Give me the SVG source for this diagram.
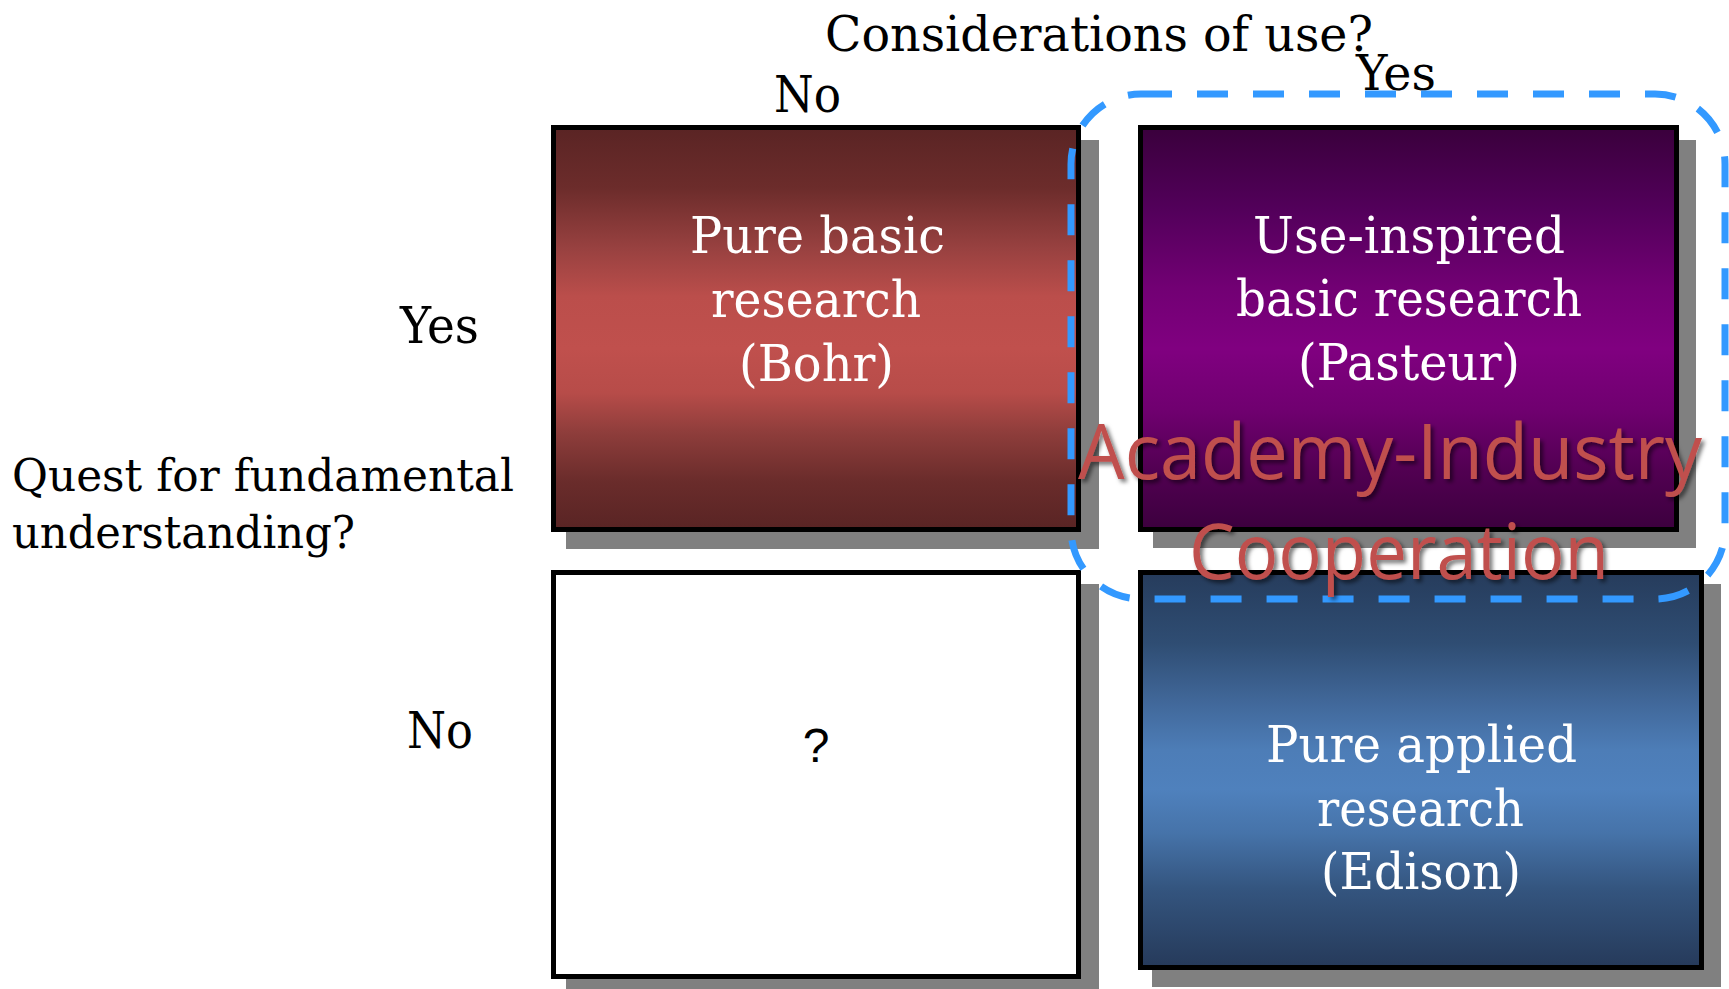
<svg xmlns="http://www.w3.org/2000/svg" width="1729" height="989" viewBox="0 0 1729 989">
<style>
.serif{font-family:"DejaVu Serif","Liberation Serif",serif;fill:#000}
.w{fill:#fff}
.box{stroke:#000;stroke-width:5}
.shadow{fill:#808080}
.aic{font-family:"Open Sans","Noto Sans","Liberation Sans",sans-serif;font-size:76px;fill:#c0504d}
</style>
<defs>
<linearGradient id="gRed" x1="0" y1="0" x2="0" y2="1">
<stop offset="0" stop-color="#5a2424"/>
<stop offset="0.15" stop-color="#6c2c2b"/>
<stop offset="0.3" stop-color="#984140"/>
<stop offset="0.42" stop-color="#bb4e4b"/>
<stop offset="0.55" stop-color="#c0504d"/>
<stop offset="0.66" stop-color="#b74c49"/>
<stop offset="0.76" stop-color="#8e3d3b"/>
<stop offset="0.88" stop-color="#6a2c2b"/>
<stop offset="1" stop-color="#592424"/>
</linearGradient>
<linearGradient id="gPur" x1="0" y1="0" x2="0" y2="1">
<stop offset="0" stop-color="#3a003c"/>
<stop offset="0.2" stop-color="#52005a"/>
<stop offset="0.4" stop-color="#720074"/>
<stop offset="0.55" stop-color="#800080"/>
<stop offset="0.7" stop-color="#700070"/>
<stop offset="0.85" stop-color="#520052"/>
<stop offset="1" stop-color="#3c003e"/>
</linearGradient>
<linearGradient id="gBlu" x1="0" y1="0" x2="0" y2="1">
<stop offset="0" stop-color="#263c5c"/>
<stop offset="0.18" stop-color="#2f4d73"/>
<stop offset="0.33" stop-color="#41689a"/>
<stop offset="0.45" stop-color="#4d7db7"/>
<stop offset="0.55" stop-color="#4f81bd"/>
<stop offset="0.66" stop-color="#4673a9"/>
<stop offset="0.8" stop-color="#34557f"/>
<stop offset="1" stop-color="#263a5a"/>
</linearGradient>
<filter id="ts" x="-10%" y="-30%" width="120%" height="160%">
<feDropShadow dx="3" dy="3" stdDeviation="2" flood-color="#000" flood-opacity="0.55"/>
</filter>
</defs>
<rect width="1729" height="989" fill="#fff"/>

<g id="axis-labels">
<text class="serif" x="825" y="51" font-size="48" textLength="548" lengthAdjust="spacingAndGlyphs">Considerations of use?</text>
<text class="serif" x="774" y="112" font-size="50" textLength="67" lengthAdjust="spacingAndGlyphs">No</text>
<text class="serif" x="1356" y="90" font-size="48" textLength="80" lengthAdjust="spacingAndGlyphs">Yes</text>
<text class="serif" x="400" y="343" font-size="50" textLength="79" lengthAdjust="spacingAndGlyphs">Yes</text>
<text class="serif" x="407" y="748" font-size="50" textLength="66" lengthAdjust="spacingAndGlyphs">No</text>
<text class="serif" x="12" y="491" font-size="44" textLength="502" lengthAdjust="spacingAndGlyphs">Quest for fundamental</text>
<text class="serif" x="12" y="548" font-size="44" textLength="343" lengthAdjust="spacingAndGlyphs">understanding?</text>
</g>

<g id="node-pure-basic">
<rect class="shadow" x="566" y="140" width="533" height="409"/>
<rect class="box" x="553.5" y="127.5" width="525" height="402" fill="url(#gRed)"/>
<text class="serif w" x="690" y="253" font-size="50" textLength="255" lengthAdjust="spacingAndGlyphs">Pure basic</text>
<text class="serif w" x="711" y="317" font-size="50" textLength="210" lengthAdjust="spacingAndGlyphs">research</text>
<text class="serif w" x="739" y="381" font-size="50" textLength="155" lengthAdjust="spacingAndGlyphs">(Bohr)</text>
</g>

<g id="node-use-inspired">
<rect class="shadow" x="1153" y="140" width="543" height="408"/>
<rect class="box" x="1140.5" y="127.5" width="536" height="402" fill="url(#gPur)"/>
<text class="serif w" x="1253" y="253" font-size="50" textLength="312" lengthAdjust="spacingAndGlyphs">Use-inspired</text>
<text class="serif w" x="1236" y="316" font-size="50" textLength="346" lengthAdjust="spacingAndGlyphs">basic research</text>
<text class="serif w" x="1298" y="380" font-size="50" textLength="222" lengthAdjust="spacingAndGlyphs">(Pasteur)</text>
</g>

<g id="node-unknown">
<rect class="shadow" x="566" y="584" width="533" height="405"/>
<rect class="box" x="553.5" y="572.5" width="525" height="404" fill="#fff"/>
<text x="816" y="762" font-family="'Liberation Sans',Arial,sans-serif" font-size="48" text-anchor="middle" fill="#000">?</text>
</g>

<g id="node-pure-applied">
<rect class="shadow" x="1152" y="584" width="569" height="403"/>
<rect class="box" x="1140.5" y="572.5" width="561" height="395" fill="url(#gBlu)"/>
<text class="serif w" x="1266" y="762" font-family="'DejaVu Serif',serif" font-size="50" textLength="311" lengthAdjust="spacingAndGlyphs">Pure applied</text>
<text class="serif w" x="1317" y="826" font-size="50" textLength="207" lengthAdjust="spacingAndGlyphs">research</text>
<text class="serif w" x="1321" y="889" font-size="50" textLength="200" lengthAdjust="spacingAndGlyphs">(Edison)</text>
</g>

<g id="connectors">
<rect id="cooperation-region" x="1071" y="94" width="654" height="505" rx="70" ry="70" fill="none" stroke="#3399ff" stroke-width="7" stroke-dasharray="31 25"/>
</g>

<g id="label-cooperation" filter="url(#ts)">
<text class="aic" x="1078" y="479" textLength="624" lengthAdjust="spacingAndGlyphs">Academy-Industry</text>
<text class="aic" x="1189" y="579" textLength="420" lengthAdjust="spacingAndGlyphs">Cooperation</text>
</g>
</svg>
